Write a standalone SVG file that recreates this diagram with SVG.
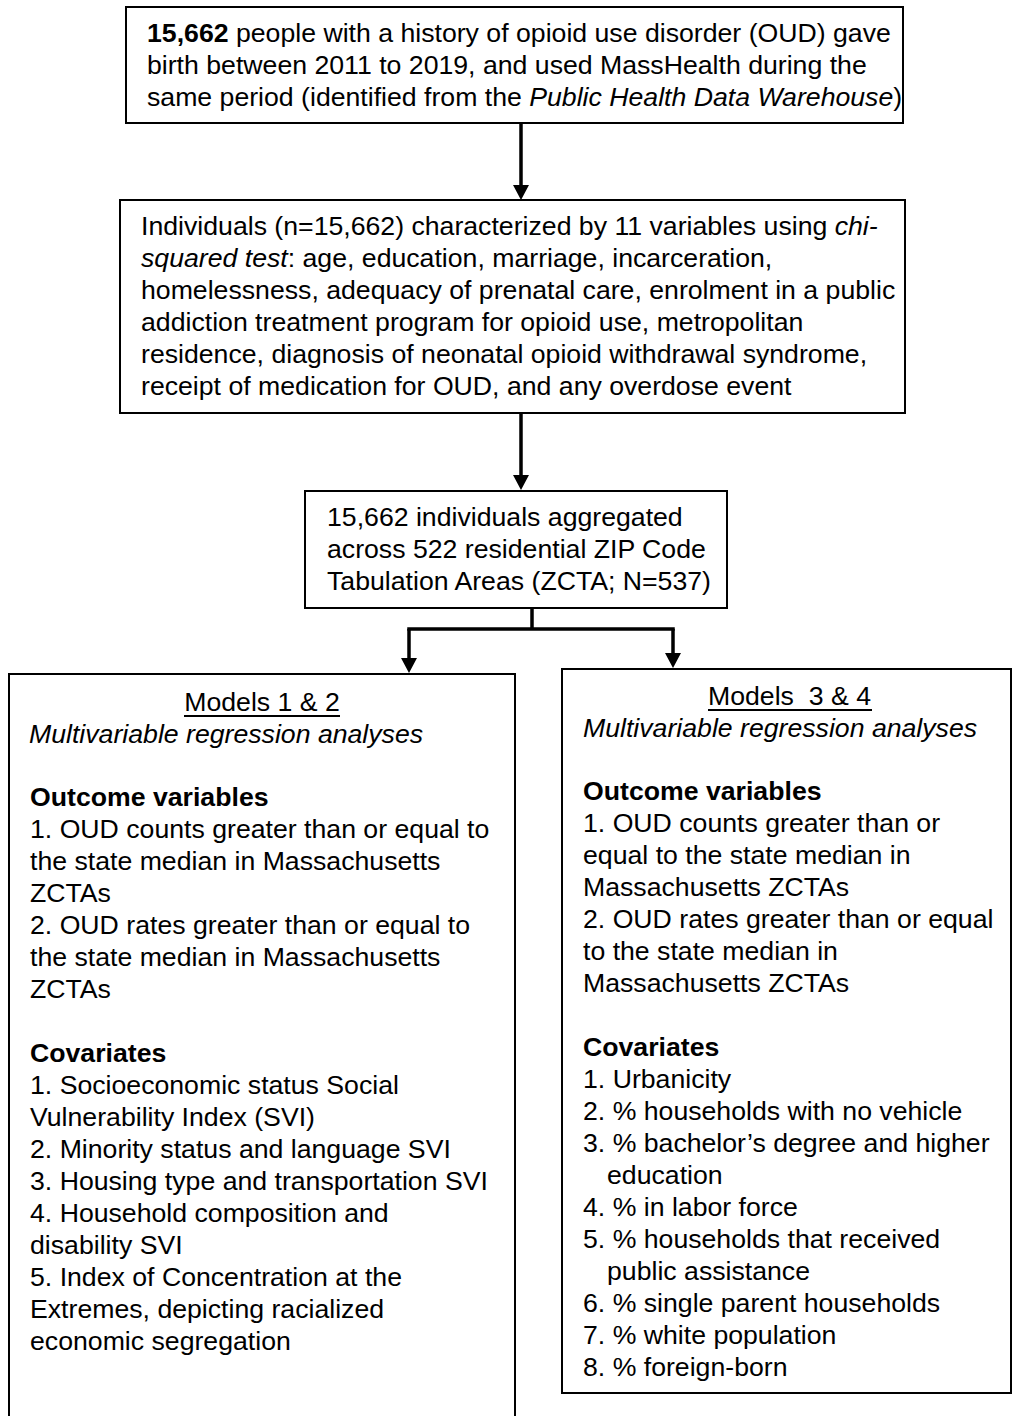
<svg xmlns="http://www.w3.org/2000/svg" width="1013" height="1416" viewBox="0 0 1013 1416">
<style>
text{font-family:"Liberation Sans",Arial,sans-serif;font-size:26.67px;fill:#000}
.b{font-weight:bold}
.i{font-style:italic}
.box{fill:#fff;stroke:#000;stroke-width:2}
.conn{fill:none;stroke:#000;stroke-width:3.5}
.ul{stroke:#000;stroke-width:2}
</style>
<defs>
<marker id="ah" viewBox="0 0 15 16" refX="5" refY="8" markerWidth="15" markerHeight="16" markerUnits="userSpaceOnUse" orient="auto">
<path d="M0,0 L15,8 L0,16 z" fill="#000"/>
</marker>
</defs>
<rect width="1013" height="1416" fill="#fff"/>
<g id="connectors">
<line class="conn" x1="521" y1="123" x2="521" y2="190" marker-end="url(#ah)"/>
<line class="conn" x1="521" y1="413" x2="521" y2="480" marker-end="url(#ah)"/>
<path class="conn" d="M532,608 V629 M407.25,629 H674.75"/>
<line class="conn" x1="409" y1="629" x2="409" y2="663" marker-end="url(#ah)"/>
<line class="conn" x1="673" y1="629" x2="673" y2="658" marker-end="url(#ah)"/>
</g>
<g id="node-cohort">
<rect class="box" x="126" y="7" width="777" height="116"/>
<text x="147" y="42"><tspan class="b">15,662</tspan> people with a history of opioid use disorder (OUD) gave</text>
<text x="147" y="74">birth between 2011 to 2019, and used MassHealth during the</text>
<text x="147" y="106">same period (identified from the <tspan class="i">Public Health Data Warehouse</tspan>)</text>
</g>
<g id="node-individuals">
<rect class="box" x="120" y="200" width="785" height="213"/>
<text x="141" y="235">Individuals (n=15,662) characterized by 11 variables using <tspan class="i">chi-</tspan></text>
<text x="141" y="267"><tspan class="i">squared test</tspan>: age, education, marriage, incarceration,</text>
<text x="141" y="299">homelessness, adequacy of prenatal care, enrolment in a public</text>
<text x="141" y="331">addiction treatment program for opioid use, metropolitan</text>
<text x="141" y="363">residence, diagnosis of neonatal opioid withdrawal syndrome,</text>
<text x="141" y="395">receipt of medication for OUD, and any overdose event</text>
</g>
<g id="node-zcta">
<rect class="box" x="305" y="491" width="422" height="117"/>
<text x="327" y="526">15,662 individuals aggregated</text>
<text x="327" y="558">across 522 residential ZIP Code</text>
<text x="327" y="590">Tabulation Areas (ZCTA; N=537)</text>
</g>
<g id="node-models12">
<rect class="box" x="9" y="674" width="506" height="760"/>
<text x="262" y="711" text-anchor="middle">Models 1 &amp; 2</text>
<line class="ul" x1="184" y1="716" x2="340" y2="716"/>
<text class="i" x="29" y="743">Multivariable regression analyses</text>
<text class="b" x="30" y="806">Outcome variables</text>
<text x="30" y="838">1. OUD counts greater than or equal to</text>
<text x="30" y="870">the state median in Massachusetts</text>
<text x="30" y="902">ZCTAs</text>
<text x="30" y="934">2. OUD rates greater than or equal to</text>
<text x="30" y="966">the state median in Massachusetts</text>
<text x="30" y="998">ZCTAs</text>
<text class="b" x="30" y="1062">Covariates</text>
<text x="30" y="1094">1. Socioeconomic status Social</text>
<text x="30" y="1126">Vulnerability Index (SVI)</text>
<text x="30" y="1158">2. Minority status and language SVI</text>
<text x="30" y="1190">3. Housing type and transportation SVI</text>
<text x="30" y="1222">4. Household composition and</text>
<text x="30" y="1254">disability SVI</text>
<text x="30" y="1286">5. Index of Concentration at the</text>
<text x="30" y="1318">Extremes, depicting racialized</text>
<text x="30" y="1350">economic segregation</text>
</g>
<g id="node-models34">
<rect class="box" x="562" y="669" width="449" height="724"/>
<text x="708" y="705" xml:space="preserve">Models  3 &amp; 4</text>
<line class="ul" x1="708" y1="710" x2="872" y2="710"/>
<text class="i" x="583" y="737">Multivariable regression analyses</text>
<text class="b" x="583" y="800">Outcome variables</text>
<text x="583" y="832">1. OUD counts greater than or</text>
<text x="583" y="864">equal to the state median in</text>
<text x="583" y="896">Massachusetts ZCTAs</text>
<text x="583" y="928">2. OUD rates greater than or equal</text>
<text x="583" y="960">to the state median in</text>
<text x="583" y="992">Massachusetts ZCTAs</text>
<text class="b" x="583" y="1056">Covariates</text>
<text x="583" y="1088">1. Urbanicity</text>
<text x="583" y="1120">2. % households with no vehicle</text>
<text x="583" y="1152">3. % bachelor’s degree and higher</text>
<text x="607" y="1184">education</text>
<text x="583" y="1216">4. % in labor force</text>
<text x="583" y="1248">5. % households that received</text>
<text x="607" y="1280">public assistance</text>
<text x="583" y="1312">6. % single parent households</text>
<text x="583" y="1344">7. % white population</text>
<text x="583" y="1376">8. % foreign-born</text>
</g>
</svg>
